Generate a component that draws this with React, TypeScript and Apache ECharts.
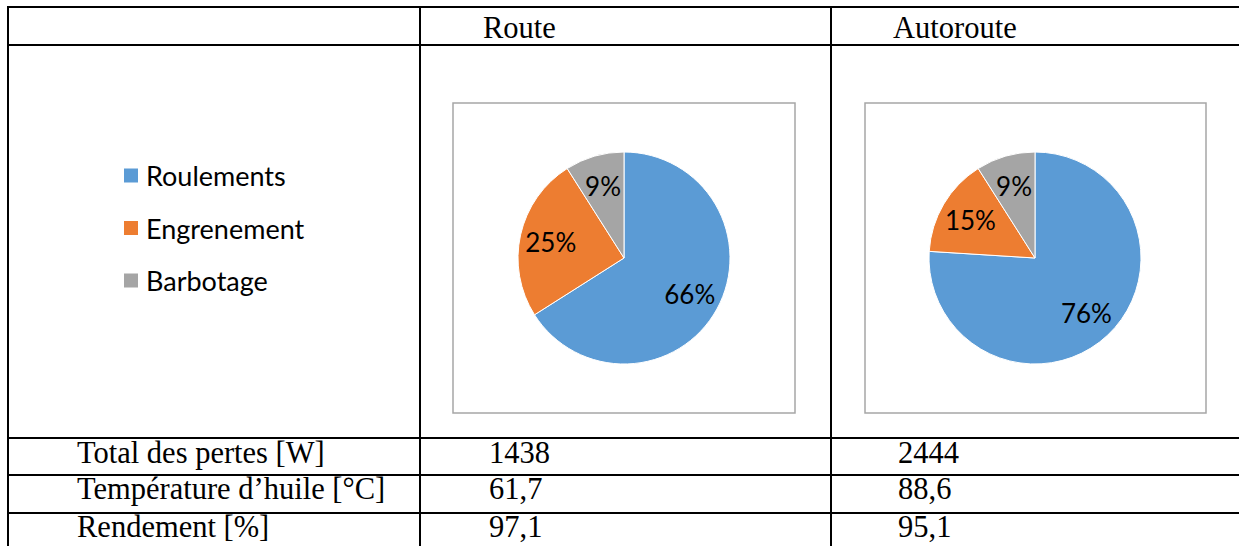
import React, { useEffect, useRef } from "react";
import * as echarts from "echarts";

// ---- data ----
const columnTitles = ["Route", "Autoroute"];
const categories = ["Roulements", "Engrenement", "Barbotage"];
const routeShares = [66, 25, 9];
const autorouteShares = [76, 15, 9];
const rowLabels = ["Total des pertes [W]", "Température d’huile [°C]", "Rendement [%]"];
const routeValues = ["1438", "61,7", "97,1"];
const autorouteValues = ["2444", "88,6", "95,1"];

// ---- styling / layout ----
const COLORS = ["#5b9bd5", "#ed7d31", "#a5a5a5"];
const SERIF = '"Liberation Serif", "Times New Roman", serif';
const SANS = 'Lato, "Open Sans", sans-serif';
const SERIF_SIZE = 30.5;
const LEGEND_SIZE = 27;
const LABEL_SIZE = 26;

const TABLE_LEFT = 8;
const TABLE_RIGHT = 1239;
const TABLE_TOP = 7;
const TABLE_BOTTOM = 546;
const ROW_LINES = [7, 45, 438, 475, 513];
const COL_LINES = [8, 420, 831];
const HEADER_Y = 27.5;
const ROW_TEXT_Y = [452.5, 489, 527];
const LABEL_X = 77;
const VALUE_X = [489, 898];
const HEADER_X = [483, 893];
const BOXES = [
  { x: 453, y: 103, w: 342, h: 310 },
  { x: 865, y: 103, w: 341, h: 310 },
];
const PIE_CENTERS = [
  [624, 258],
  [1035, 258],
];
const PIE_R = 106;

export default function App() {
  const ref = useRef<HTMLDivElement>(null);
  useEffect(() => {
    if (!ref.current) return;
    const chart = echarts.init(ref.current, undefined, { renderer: "svg" });

    const graphics: any[] = [];
    ROW_LINES.forEach((y) =>
      graphics.push({
        type: "line",
        shape: { x1: TABLE_LEFT - 1, y1: y, x2: TABLE_RIGHT, y2: y },
        style: { stroke: "#000", lineWidth: 2 },
        silent: true,
      })
    );
    COL_LINES.forEach((x) =>
      graphics.push({
        type: "line",
        shape: { x1: x, y1: TABLE_TOP - 1, x2: x, y2: TABLE_BOTTOM },
        style: { stroke: "#000", lineWidth: 2 },
        silent: true,
      })
    );
    BOXES.forEach((b) =>
      graphics.push({
        type: "rect",
        shape: { x: b.x, y: b.y, width: b.w, height: b.h },
        style: { fill: "#fff", stroke: "#a6a6a6", lineWidth: 1.5 },
        silent: true,
        z: -1,
      })
    );
    const textEl = (text: string, x: number, y: number) => ({
      type: "text",
      x,
      y,
      silent: true,
      style: {
        text,
        fontFamily: SERIF,
        fontSize: SERIF_SIZE,
        fill: "#000",
        align: "left",
        verticalAlign: "middle",
      },
    });
    columnTitles.forEach((t, i) => graphics.push(textEl(t, HEADER_X[i], HEADER_Y)));
    rowLabels.forEach((t, i) => graphics.push(textEl(t, LABEL_X, ROW_TEXT_Y[i])));
    routeValues.forEach((t, i) => graphics.push(textEl(t, VALUE_X[0], ROW_TEXT_Y[i])));
    autorouteValues.forEach((t, i) => graphics.push(textEl(t, VALUE_X[1], ROW_TEXT_Y[i])));

    const shareSets = [routeShares, autorouteShares];
    const pieSeries: any[] = shareSets.map((shares, k) => ({
      type: "pie",
      name: columnTitles[k],
      center: PIE_CENTERS[k],
      radius: [0, PIE_R],
      startAngle: 90,
      clockwise: true,
      label: { show: false },
      labelLine: { show: false },
      itemStyle: { borderColor: "#fff", borderWidth: 1 },
      emphasis: { disabled: true },
      data: categories.map((c, i) => ({ name: c, value: shares[i] })),
    }));
    const labelSeries: any[] = shareSets.map((shares, k) => ({
      type: "pie",
      name: columnTitles[k] + " labels",
      center: PIE_CENTERS[k],
      radius: [PIE_R * 0.36, PIE_R],
      startAngle: 90,
      clockwise: true,
      silent: true,
      itemStyle: { color: "rgba(0,0,0,0)", borderWidth: 0 },
      label: {
        show: true,
        position: "inside",
        formatter: "{c}%",
        fontFamily: SANS,
        fontSize: LABEL_SIZE,
        color: "#000",
      },
      labelLine: { show: false },
      emphasis: { disabled: true },
      data: categories.map((c, i) => ({ name: c, value: shares[i] })),
    }));

    chart.setOption({
      animation: false,
      color: COLORS,
      backgroundColor: "#fff",
      legend: {
        data: categories,
        orient: "vertical",
        left: 124,
        top: 162,
        padding: 0,
        itemWidth: 14,
        itemHeight: 14,
        itemGap: 25.5,
        icon: "rect",
        selectedMode: false,
        itemStyle: { borderWidth: 0 },
        textStyle: {
          fontFamily: SANS,
          fontSize: LEGEND_SIZE,
          lineHeight: 26,
          color: "#000",
          padding: [0, 0, 0, 3],
        },
      },
      graphic: graphics,
      series: [...pieSeries, ...labelSeries],
    });
    return () => chart.dispose();
  }, []);
  return (
    <div
      ref={ref}
      style={{ position: "absolute", left: 0, top: 0, width: 1239, height: 546 }}
    />
  );
}
